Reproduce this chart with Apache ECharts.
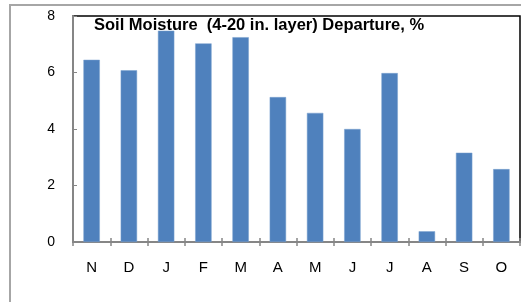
<!DOCTYPE html>
<html>
<head>
<meta charset="utf-8">
<script src="https://cdn.jsdelivr.net/npm/echarts@6/dist/echarts.min.js"></script>
<style>
  html, body { margin: 0; padding: 0; background: #fff; }
  #chart { width: 521px; height: 302px; }
</style>
</head>
<body>
<div id="chart"></div>
<script>
const months = ['N', 'D', 'J', 'F', 'M', 'A', 'M', 'J', 'J', 'A', 'S', 'O'];
const departure = [6.45, 6.08, 7.48, 7.03, 7.25, 5.13, 4.57, 4.0, 5.98, 0.38, 3.16, 2.58];
const yTicks = [0, 2, 4, 6, 8];

const chart = echarts.init(document.getElementById('chart'));

const option = {
  animation: false,
  graphic: [
    {
      type: 'rect',
      shape: { x: 10, y: 5, width: 600, height: 400 },
      style: { fill: 'none', stroke: '#a6a6a6', lineWidth: 2 },
      z: 0
    },
    {
      type: 'text',
      left: 94,
      top: 17,
      style: {
        text: 'Soil Moisture  (4-20 in. layer) Departure, %',
        font: 'bold 16.5px "Liberation Sans", sans-serif',
        fill: '#000'
      },
      z: 100
    }
  ],
  grid: {
    left: 73,
    top: 16,
    right: 1,
    bottom: 60,
    show: true,
    borderColor: '#000',
    borderWidth: 1.5,
    backgroundColor: 'transparent'
  },
  xAxis: [
    {
      type: 'category',
      data: months,
      axisLine: { lineStyle: { color: '#868686', width: 2 } },
      axisTick: { show: true, inside: false, length: 4, lineStyle: { color: '#868686', width: 1.5 } },
      axisLabel: {
        color: '#000',
        fontSize: 15,
        margin: 18,
        fontFamily: '"Liberation Sans", sans-serif'
      }
    },
    {
      type: 'category',
      data: months,
      position: 'bottom',
      axisLine: { show: false },
      axisTick: { show: true, inside: true, length: 4, lineStyle: { color: '#868686', width: 1.5 } },
      axisLabel: { show: false }
    }
  ],
  yAxis: {
    type: 'value',
    min: yTicks[0],
    max: yTicks[yTicks.length - 1],
    interval: yTicks[1] - yTicks[0],
    axisLine: { show: true, lineStyle: { color: '#868686', width: 2 } },
    axisTick: { show: true, inside: true, length: 4, lineStyle: { color: '#868686' } },
    splitLine: { show: false },
    axisLabel: {
      color: '#000',
      fontSize: 14,
      margin: 18,
      fontFamily: '"Liberation Sans", sans-serif'
    }
  },
  series: [
    {
      type: 'bar',
      data: departure,
      barWidth: '44%',
      itemStyle: { color: '#4f81bd', borderColor: '#7aa0cf', borderWidth: 0.5 }
    }
  ]
};

chart.setOption(option);
</script>
</body>
</html>
